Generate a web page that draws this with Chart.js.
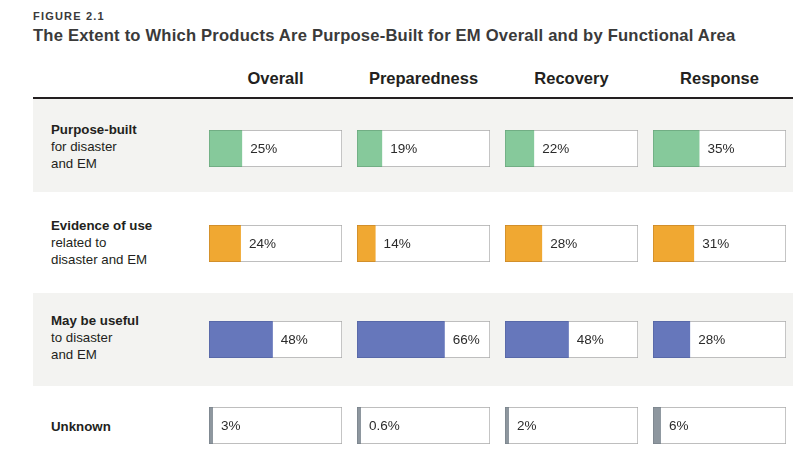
<!DOCTYPE html>
<html>
<head>
<meta charset="utf-8">
<script src="https://cdn.jsdelivr.net/npm/chart.js@4.4.1/dist/chart.umd.min.js"></script>
<style>
  html, body { margin: 0; padding: 0; background: #ffffff; }
  body { width: 808px; height: 459px; position: relative; overflow: hidden;
         font-family: "Liberation Sans", Arial, Helvetica, sans-serif; color: #231f20; }
  .abs { position: absolute; }
  .fig { left: 33px; top: 9px; font-size: 11px; font-weight: bold; letter-spacing: 1.2px; color: #3a3a3a; line-height: 14px; }
  .title { left: 33px; top: 26px; font-size: 16.6px; font-weight: bold; color: #3a3a3a; line-height: 20px; letter-spacing: 0.2px; white-space: nowrap; }
  .hdr { top: 68px; width: 148px; text-align: center; font-size: 16.5px; font-weight: bold; line-height: 20px; color: #231f20; }
  .rule { left: 33px; top: 97px; width: 760px; height: 2px; background: #231f20; }
  .band { left: 33px; width: 760px; background: #f3f3f1; }
  .rlab { left: 51px; font-size: 13.3px; line-height: 17px; color: #231f20; white-space: nowrap; }
  .rlab b { font-weight: bold; }
  canvas.cell { position: absolute; }
</style>
</head>
<body>
<div class="abs fig">FIGURE 2.1</div>
<div class="abs title">The Extent to Which Products Are Purpose-Built for EM Overall and by Functional Area</div>
<div class="abs band" style="top:99px;height:93px;"></div>
<div class="abs band" style="top:293px;height:93px;"></div>
<div class="abs rule"></div>
<div id="root"></div>
<script>
// ---- data ----
const columns = ["Overall", "Preparedness", "Recovery", "Response"];
const rowTitles = ["Purpose-built", "Evidence of use", "May be useful", "Unknown"];
const rowSubtitles = [["for disaster", "and EM"], ["related to", "disaster and EM"], ["to disaster", "and EM"], []];
const overallValues = [25, 24, 48, 3];
const preparednessValues = [19, 14, 66, 0.6];
const recoveryValues = [22, 28, 48, 2];
const responseValues = [35, 31, 28, 6];
const valueLabels = [
  ["25%", "24%", "48%", "3%"],
  ["19%", "14%", "66%", "0.6%"],
  ["22%", "28%", "48%", "2%"],
  ["35%", "31%", "28%", "6%"]
];
const columnValues = [overallValues, preparednessValues, recoveryValues, responseValues];
const rowColors = ["#86c99b", "#f0a832", "#6677bb", "#8e979f"];
const rowEdgeColors = ["#6aa57d", "#c8872a", "#5565a3", "#7a838b"];

// ---- layout ----
const colLeft = [209, 357, 505, 653];
const boxW = 133;
const rowTop = [130, 225, 321, 407];
const boxH = 37;
const labelTop = [120.5, 216.5, 311.5, 417.5];

const root = document.getElementById('root');

columns.forEach((c, i) => {
  const d = document.createElement('div');
  d.className = 'abs hdr';
  d.style.left = (colLeft[i] + boxW / 2 - 74) + 'px';
  d.textContent = c;
  root.appendChild(d);
});

rowTitles.forEach((t, r) => {
  const d = document.createElement('div');
  d.className = 'abs rlab';
  d.style.top = labelTop[r] + 'px';
  const b = document.createElement('b');
  b.textContent = t;
  d.appendChild(b);
  rowSubtitles[r].forEach(s => {
    d.appendChild(document.createElement('br'));
    d.appendChild(document.createTextNode(s));
  });
  root.appendChild(d);
});

const valueLabelPlugin = {
  id: 'valueLabel',
  afterDatasetsDraw(chart) {
    const ctx = chart.ctx;
    const meta = chart.getDatasetMeta(0);
    const lbls = chart.options.plugins.valueLabel.labels;
    meta.data.forEach((el, k) => {
      ctx.save();
      ctx.font = '13.5px "Liberation Sans", Arial, sans-serif';
      ctx.fillStyle = '#2b2b2b';
      ctx.textBaseline = 'middle';
      ctx.textAlign = 'left';
      ctx.fillText(lbls[k], el.x + 8, el.y + 1);
      ctx.restore();
    });
  }
};

columns.forEach((c, ci) => {
  rowTitles.forEach((rt, ri) => {
    const cv = document.createElement('canvas');
    cv.className = 'cell';
    cv.style.left = (colLeft[ci] - 1) + 'px';
    cv.style.top = (rowTop[ri] - 1) + 'px';
    cv.style.width = (boxW + 2) + 'px';
    cv.style.height = (boxH + 2) + 'px';
    cv.width = boxW + 2;
    cv.height = boxH + 2;
    root.appendChild(cv);
    new Chart(cv, {
      type: 'bar',
      data: {
        labels: [rt],
        datasets: [
          {
            data: [columnValues[ci][ri]],
            backgroundColor: rowColors[ri],
            borderColor: rowEdgeColors[ri],
            borderWidth: 1,
            borderSkipped: 'end',
            grouped: false,
            order: 0,
            minBarLength: 4,
            barPercentage: 1,
            categoryPercentage: 1
          },
          {
            data: [100],
            backgroundColor: '#ffffff',
            borderColor: '#a9a9a9',
            borderWidth: 1,
            borderSkipped: false,
            grouped: false,
            order: 1,
            barPercentage: 1,
            categoryPercentage: 1
          }
        ]
      },
      options: {
        indexAxis: 'y',
        responsive: false,
        maintainAspectRatio: false,
        animation: false,
        events: [],
        layout: { padding: 1 },
        scales: {
          x: { display: false, min: 0, max: 100 },
          y: { display: false }
        },
        plugins: {
          legend: { display: false },
          tooltip: { enabled: false },
          valueLabel: { labels: [valueLabels[ci][ri]] }
        }
      },
      plugins: [valueLabelPlugin]
    });
  });
});
</script>
</body>
</html>
